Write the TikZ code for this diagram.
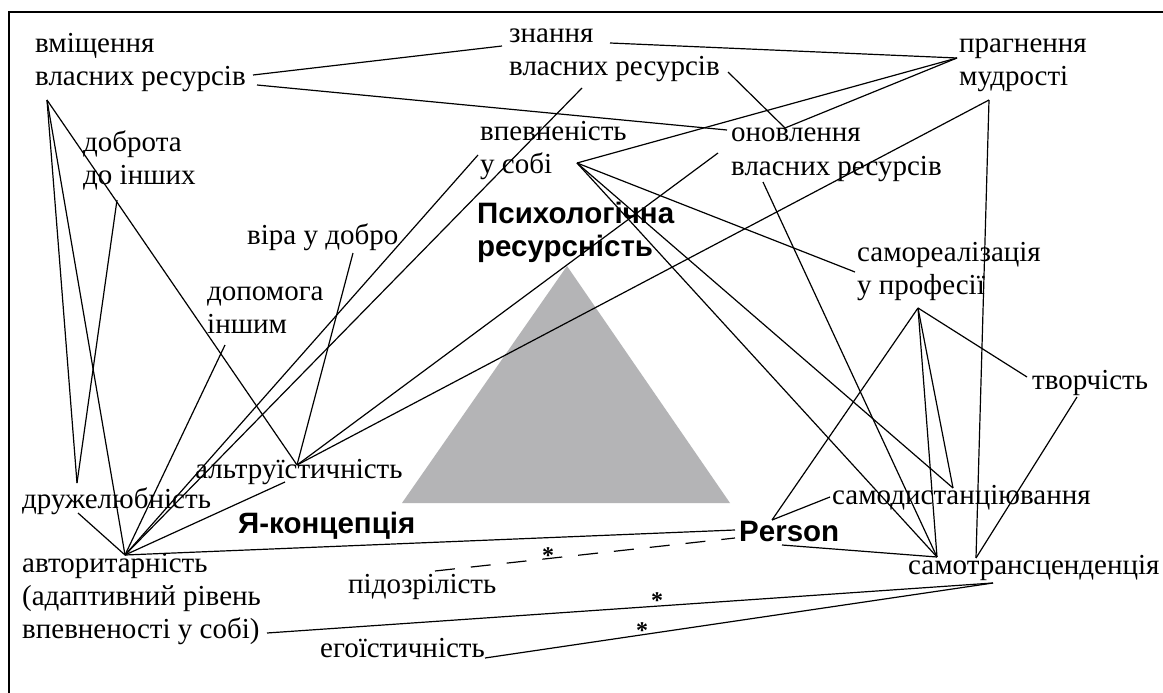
\documentclass[tikz,border=0pt]{standalone}
\usepackage{fontspec}
\setmainfont{Liberation Serif}
\setsansfont{Liberation Sans}
\definecolor{trifill}{RGB}{180,180,182}
\begin{document}
\begin{tikzpicture}[x=1pt,y=-1pt,
  lbl/.style={anchor=base west, inner sep=0pt, align=left, font=\fontsize{29}{33}\selectfont},
  big/.style={anchor=base west, inner sep=0pt, align=left, font=\sffamily\bfseries\fontsize{29.5}{33}\selectfont},
  link/.style={line width=1.2pt},
  dlink/.style={line width=1.2pt, dash pattern=on 20pt off 16pt},
  star/.style={inner sep=0pt, font=\fontsize{24}{24}\selectfont\bfseries}]
\useasboundingbox (0,0) rectangle (1163,693);
\clip (0,0) rectangle (1163,693);
\fill[white] (0,0) rectangle (1163,693);
\draw[line width=2pt] (9,12) rectangle (1180,720);
\fill[trifill] (567,266) -- (730,503) -- (402,503) -- cycle;
% labels (anchor = baseline of the last line)
\node[lbl] (vm) at (35,86) {вміщення\\власних ресурсів};
\node[lbl] (zn) at (509,76) {знання\\власних ресурсів};
\node[lbl] (pr) at (959,86) {прагнення\\мудрості};
\node[lbl] (db) at (83,184) {доброта\\до інших};
\node[lbl] (vp) at (480,173) {впевненість\\у собі};
\node[lbl] (on) at (731,175) {оновлення\\власних ресурсів};
\node[lbl] (vira) at (247,244) {віра у добро};
\node[big] (psy) at (477,256) {Психологічна\\ресурсність};
\node[lbl] (sr) at (857,294) {самореалізація\\у професії};
\node[lbl] (dop) at (207,333) {допомога\\іншим};
\node[lbl] (tv) at (1032,389) {творчість};
\node[lbl] (alt) at (195,478) {альтруїстичність};
\node[lbl] (dr) at (22,508) {дружелюбність};
\node[big] (ya) at (238,533) {Я-концепція};
\node[big] (per) at (739,541) {Person};
\node[lbl] (sd) at (832,504) {самодистанціювання};
\node[lbl] (avt) at (22,638) {авторитарність\\(адаптивний рівень\\впевненості у собі)};
\node[lbl] (pid) at (348,593) {підозрілість};
\node[lbl] (st) at (908,574) {самотрансценденція};
\node[lbl] (eg) at (320,657) {егоїстичність};
% anchor points
\coordinate (vmR1) at (253,75); \coordinate (vmR2) at (257,85); \coordinate (vmB) at (47,100);
\coordinate (znL) at (502,46); \coordinate (znR1) at (610,43); \coordinate (znR2) at (728,72); \coordinate (znB) at (582,88);
\coordinate (prL) at (957,58); \coordinate (prB) at (989,100);
\coordinate (onT) at (785,128); \coordinate (onL) at (727,130); \coordinate (onL2) at (718,153); \coordinate (onB) at (763,182);
\coordinate (vpL) at (478,155); \coordinate (vpR) at (577,163);
\coordinate (dbB) at (117,200);
\coordinate (viraB) at (353,253);
\coordinate (dopB) at (225,345);
\coordinate (srL) at (855,272); \coordinate (srB) at (918,308);
\coordinate (tvB) at (1077,397); \coordinate (tvL) at (1027,377);
\coordinate (altT) at (297,465); \coordinate (altB) at (285,482);
\coordinate (drT) at (77,483); \coordinate (drB) at (78,513);
\coordinate (avtT) at (125,555); \coordinate (avtR) at (267,633);
\coordinate (perL) at (735,530); \coordinate (perT) at (772,520); \coordinate (perR) at (782,545); \coordinate (perD) at (735,538);
\coordinate (sdT) at (953,488); \coordinate (sdL) at (830,497);
\coordinate (stT) at (937,557); \coordinate (stT2) at (976,558); \coordinate (stB) at (993,583);
\coordinate (pidT) at (435,571);
\coordinate (egR) at (485,658);
% connectors
\draw[link] (vmR1) -- (znL);
\draw[link] (vmR2) -- (onL);
\draw[link] (znR1) -- (prL);
\draw[link] (znR2) -- (onT);
\draw[link] (prL) -- (onT);
\draw[link] (prL) -- (vpR);
\draw[link] (prB) -- (altT);
\draw[link] (prB) -- (stT2);
\draw[link] (onL2) -- (altT);
\draw[link] (onB) -- (stT);
\draw[link] (znB) -- (avtT);
\draw[link] (vpL) -- (avtT);
\draw[link] (vpR) -- (srL);
\draw[link] (vpR) -- (sdT);
\draw[link] (vpR) -- (stT);
\draw[link] (vmB) -- (drT);
\draw[link] (vmB) -- (avtT);
\draw[link] (vmB) -- (altT);
\draw[link] (dbB) -- (drT);
\draw[link] (drB) -- (avtT);
\draw[link] (viraB) -- (altT);
\draw[link] (dopB) -- (avtT);
\draw[link] (altB) -- (avtT);
\draw[link] (avtT) -- (perL);
\draw[dlink] (pidT) -- (perD);
\draw[link] (avtR) -- (stB);
\draw[link] (egR) -- (stB);
\draw[link] (srB) -- (perT);
\draw[link] (perT) -- (sdL);
\draw[link] (perR) -- (stT);
\draw[link] (srB) -- (sdT);
\draw[link] (srB) -- (stT);
\draw[link] (srB) -- (tvL);
\draw[link] (tvB) -- (stT2);
% stars
\node[star] (s1) at (548,556) {*};
\node[star] (s2) at (657,601) {*};
\node[star] (s3) at (642,631) {*};
\end{tikzpicture}
\end{document}
